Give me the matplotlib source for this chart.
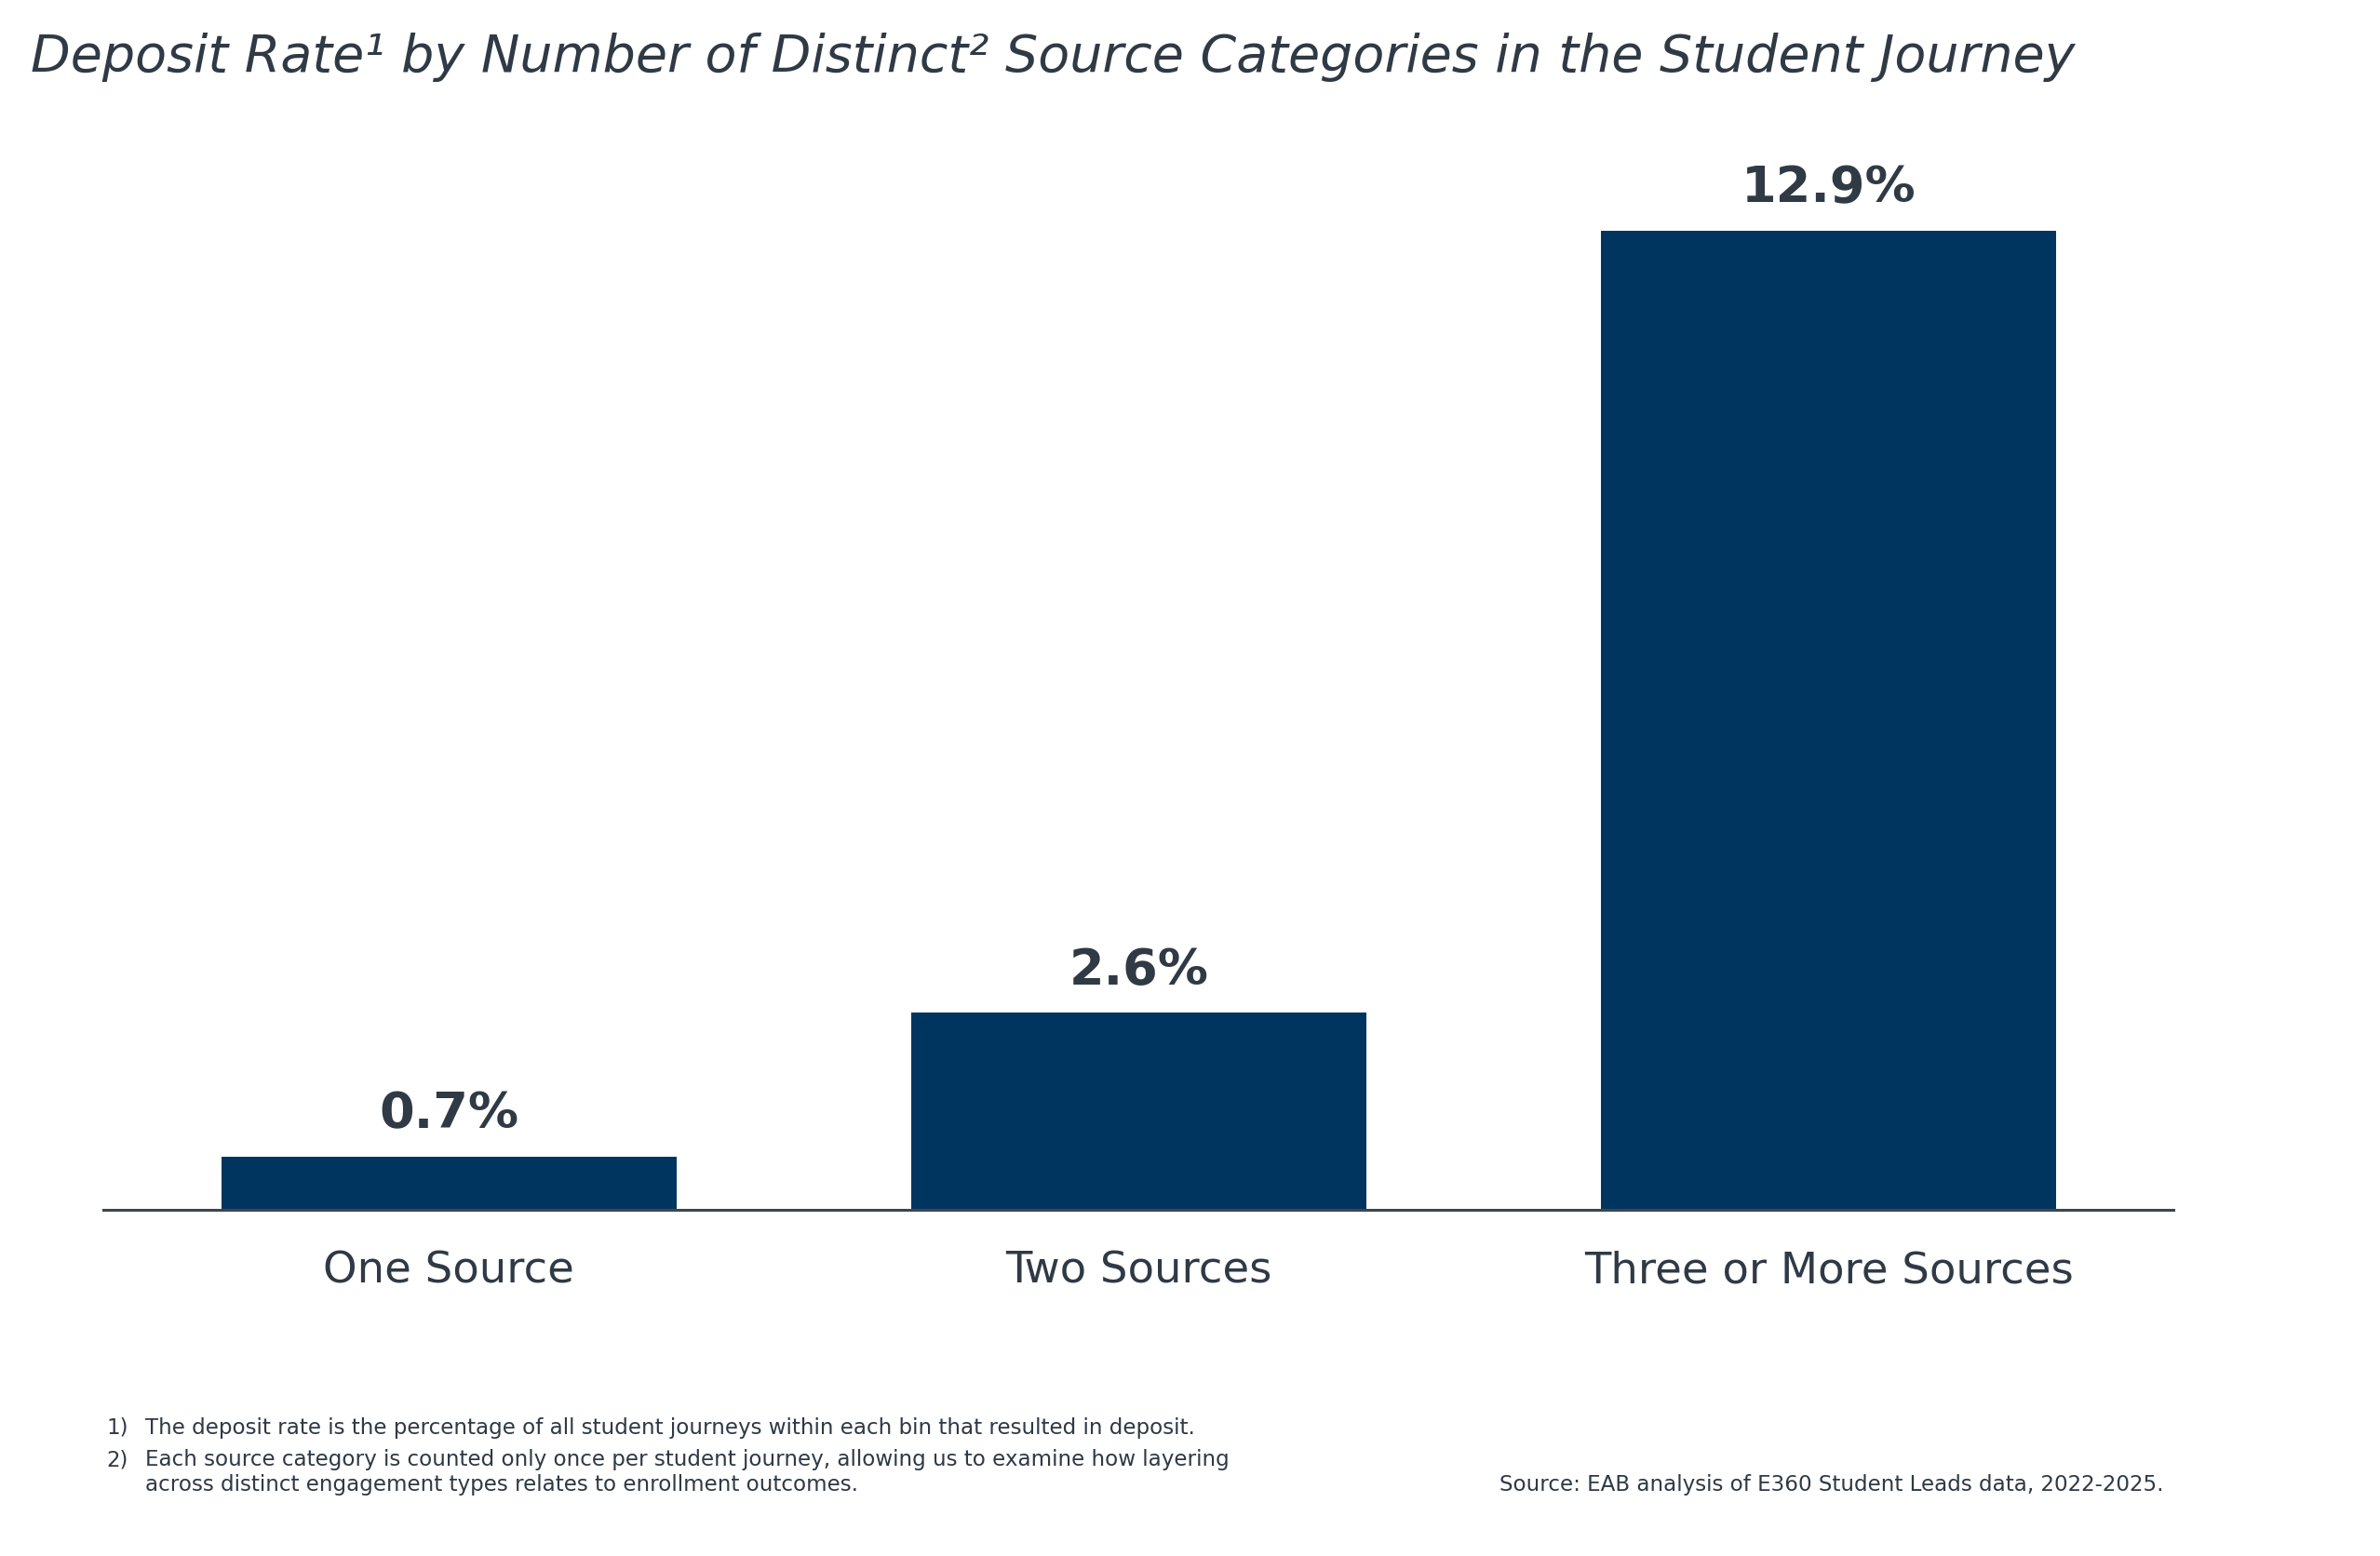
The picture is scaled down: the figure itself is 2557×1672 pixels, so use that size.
import matplotlib
matplotlib.use("Agg")
import matplotlib.pyplot as plt

categories = ["One Source", "Two Sources", "Three or More Sources"]
deposit_rate = [0.7, 2.6, 12.9]
value_labels = ["0.7%", "2.6%", "12.9%"]

title = "Deposit Rate\u00b9 by Number of Distinct\u00b2 Source Categories in the Student Journey"
footnote1 = "The deposit rate is the percentage of all student journeys within each bin that resulted in deposit."
footnote2a = "Each source category is counted only once per student journey, allowing us to examine how layering"
footnote2b = "across distinct engagement types relates to enrollment outcomes."
source = "Source: EAB analysis of E360 Student Leads data, 2022-2025."

BAR = "#00355f"
TXT = "#2f3a45"

plt.rcParams['font.family'] = ['DejaVu Sans']

fig = plt.figure(figsize=(25.57, 16.72), dpi=100)
ax = fig.add_axes([0.0436, 0.2224, 0.9133 - 0.0436, 0.6776])

x = list(range(len(categories)))
ax.bar(x, deposit_rate, width=0.66, color=BAR, zorder=2)
ax.set_xlim(-0.5, 2.5)
ax.set_ylim(0, 13.89)
for xi, v, lab in zip(x, deposit_rate, value_labels):
    ax.annotate(lab, (xi, v), xytext=(0, 14), textcoords="offset points",
                ha="center", va="bottom", fontsize=39, fontweight="bold", color=TXT)

ax.set_xticks(x)
ax.set_xticklabels(categories, fontsize=33.5, color=TXT)
ax.tick_params(axis="x", length=0, pad=31)
ax.set_yticks([])
for s in ["top", "right", "left"]:
    ax.spines[s].set_visible(False)
ax.spines["bottom"].set_color("#3d4650")
ax.spines["bottom"].set_linewidth(2.2)

fig.text(0.0128, 0.954, title, fontsize=40, style="italic", color=TXT, va="baseline", ha="left")

fs = 16.6
fig.text(0.0446, 0.0785, "1)", fontsize=fs, color=TXT, va="baseline")
fig.text(0.0612, 0.0785, footnote1, fontsize=fs, color=TXT, va="baseline")
fig.text(0.0446, 0.058, "2)", fontsize=fs, color=TXT, va="baseline")
fig.text(0.0612, 0.058, footnote2a, fontsize=fs, color=TXT, va="baseline")
fig.text(0.0612, 0.042, footnote2b, fontsize=fs, color=TXT, va="baseline")
fig.text(0.909, 0.042, source, fontsize=fs, color=TXT, va="baseline", ha="right")

fig.savefig("out.png", dpi=100, facecolor="white")
